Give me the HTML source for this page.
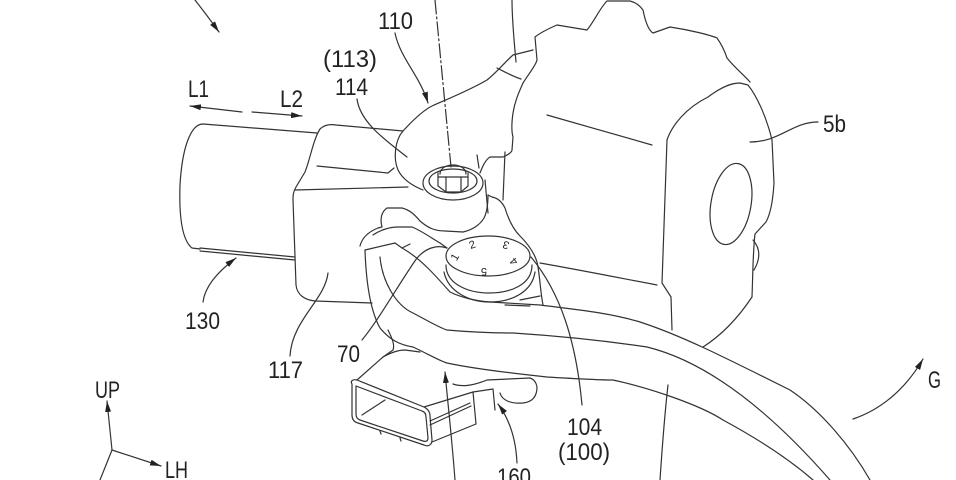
<!DOCTYPE html>
<html>
<head>
<meta charset="utf-8">
<style>
html,body{margin:0;padding:0;background:#fff;}
svg{display:block;}
text{font-family:"Liberation Sans",sans-serif;fill:#222;}
</style>
</head>
<body>
<svg width="956" height="480" viewBox="0 0 956 480" xmlns="http://www.w3.org/2000/svg">
<defs>
<marker id="a" viewBox="0 0 11 6" refX="11" refY="3" markerWidth="11" markerHeight="6" orient="auto" markerUnits="userSpaceOnUse">
<path d="M0,0 L11,3 L0,6 z" fill="#222"/>
</marker>
</defs>
<rect width="956" height="480" fill="#fff"/>
<g fill="none" stroke="#333" stroke-width="1.2" stroke-linecap="round" stroke-linejoin="round">

<!-- leaders & arrows -->
<path d="M195,0 Q206,14 219,32" marker-end="url(#a)"/>
<path d="M242,112 L190,106" marker-end="url(#a)"/>
<path d="M252,112 L302,116" marker-end="url(#a)"/>
<path d="M395,33 C400,58 420,76 428,103" marker-end="url(#a)"/>
<path d="M435,0 L451,167" stroke-dasharray="14,3,2,3"/>
<path d="M512,0 C512,20 514,40 516,62"/>
<path d="M357,99 C360,122 385,140 407,157"/>
<path d="M750,142 C780,142 792,122 818,122"/>
<path d="M203,302 C205,285 220,270 236,258" marker-end="url(#a)"/>
<path d="M290,356 C292,320 325,300 328,273"/>
<path d="M362,340 C380,318 400,282 417,258 C425,249 436,244 447,248"/>
<path d="M582,405 C576,340 560,292 531,257"/>
<path d="M517,463 C516,440 510,420 498,404" marker-end="url(#a)"/>
<path d="M455,480 C452,440 448,405 445,372" marker-end="url(#a)"/>
<path d="M112,450 L107,401" marker-end="url(#a)"/>
<path d="M112,450 L161,466" marker-end="url(#a)"/>
<path d="M112,450 L100,480"/>
<path d="M853,419 C880,410 905,390 923,359" marker-end="url(#a)"/>

<!-- cylinder 130 -->
<path d="M317,133 L203,124 C190,124 182,150 180,185 C179,215 182,240 192,248 L200,249"/>
<path d="M200,248 L295,257"/>
<path d="M200,251 L295,260"/>

<!-- box 117 -->
<path d="M320,129 C324,125 330,124 336,125 L403,131"/>
<path d="M320,129 C313,140 310,160 305,172 L296,187 C293,192 293,196 293,200 L296,285 C297,295 305,300 315,301 L372,303"/>
<path d="M317,166 L388,173 L394,168"/>
<path d="M295,190 L408,187"/>

<!-- tab 114 -->
<path d="M403,131 C395,140 393,158 398,170 C403,180 413,186 423,190"/>
<path d="M403,131 C414,119 424,110 432,106 C450,98 470,90 487,80 C497,72 505,62 513,55 L533,50"/>
<path d="M497,68 C505,72 512,76 521,79"/>
<path d="M477,155 L479,168"/>
<path d="M485,180 L488,213"/>

<!-- bolt -->
<ellipse cx="453" cy="183" rx="30" ry="17"/>
<ellipse cx="453" cy="181" rx="24" ry="12"/>
<path d="M438,173 L438,186 L446,192 L461,192 L468,186 L468,173"/>
<path d="M440,174 C440,162 466,162 466,174"/>
<path d="M438,177 L468,177"/>
<path d="M446,177 L446,192 M461,177 L461,192"/>

<!-- bracket -->
<path d="M360,246 C362,238 368,232 378,228 L382,227 C380,220 381,212 387,208 L402,208 C410,210 415,215 420,221 C428,228 435,231 445,231 L463,232 C472,230 480,225 484,218 C488,210 488,200 488,195"/>
<path d="M488,195 L492,197 C498,198 502,202 505,208 C508,218 512,228 520,236 C528,244 534,252 537,262 C540,275 540,290 543,305"/>
<path d="M373,235 C380,230 390,227 398,227 L412,227 C420,230 430,237 440,243 L447,248"/>
<path d="M395,243 L402,248 L410,244"/>

<!-- knob 104 -->
<path d="M446,265 C446,285 470,293 489,293 C510,293 532,285 532,265"/>
<ellipse cx="488" cy="256" rx="42" ry="20"/>
<path d="M444,272 C448,292 470,302 489,302 C512,302 532,292 535,272"/>
<path d="M520,300 L540,296 M505,305 L530,306"/>

<!-- band & hose lines -->
<path d="M365,250 L395,243"/>
<path d="M402,248 C420,258 435,275 450,292 C460,297 475,301 490,302 L540,305 C580,310 610,313 640,322 C680,335 720,355 790,390 C820,410 850,445 870,480"/>
<path d="M380,257 C382,280 395,305 413,313 C430,322 440,328 447,330 C480,333 500,333 513,333 C560,336 600,340 647,347 C700,360 760,400 830,480"/>
<path d="M365,250 C366,280 370,310 380,328 C390,340 400,345 413,347 C430,355 440,361 447,363 C470,368 500,372 547,377 C580,379 600,380 613,380 C650,388 700,405 723,420 C760,440 790,460 813,480"/>
<path d="M668,385 C664,420 662,450 660,480"/>

<!-- housing 5b -->
<path d="M480,173 C482,168 485,160 490,157 L503,157 C508,155 512,152 512,150 L513,137 C511,130 512,120 513,113 C515,100 520,90 523,83 C530,72 536,65 537,60 L535,37 C540,33 550,28 557,25 L587,30 C595,20 600,8 607,1 L630,1 C637,3 640,6 643,10 C645,20 648,30 653,33 L670,27 C690,30 710,35 717,38 C722,45 725,52 727,58 C735,68 745,76 750,82"/>
<path d="M667,140 C672,125 686,108 708,97 C720,88 730,83 740,83 L748,85 C756,95 766,115 772,140 L774,183 C773,200 771,213 766,222 L755,234 C753,250 753,270 752,297 C740,315 725,333 703,347"/>
<path d="M753,240 C760,248 761,258 754,270"/>
<path d="M667,140 L662,283 L671,297 L672,330"/>
<path d="M547,115 L652,145"/>
<path d="M540,263 C580,270 620,278 657,285"/>
<path d="M505,152 L503,200"/>
<ellipse cx="731" cy="204" rx="20" ry="41" transform="rotate(10 731 204)"/>

<!-- lower bracket under band -->
<path d="M388,330 C392,338 395,345 393,350 L383,357"/>

<!-- connector -->
<path d="M352,384 C350,381 353,379 357,380 L424,407 C428,409 430,412 430,416 L432,440 C432,445 428,447 424,445 L358,423 C354,422 352,419 352,415 Z"/>
<path d="M356,386 L422,411 C425,412 426,414 426,417 L428,438 C428,441 426,442 423,441 L360,420 C357,419 356,417 356,414 Z"/>
<path d="M362,415 L385,400"/>
<path d="M357,380 L383,357 C392,352 400,350 405,350 L420,352"/>
<path d="M424,407 L473,392"/>
<path d="M430,421 L470,403 M430,425 L471,406"/>
<path d="M432,442 L476,424 L473,392"/>
<path d="M453,384 C462,387 472,386 487,380 L530,378"/>
<path d="M473,392 L493,389 L495,410"/>
<path d="M500,393 C502,400 510,404 523,403 C532,402 537,397 537,387 C536,381 533,379 530,378"/>
<path d="M380,431 L381,434 M400,438 L401,441"/>
</g>

<!-- knob digits -->
<g font-size="11">
<text x="451" y="260" transform="rotate(-60 455 256)">1</text>
<text x="469" y="248" transform="rotate(-20 473 244)">2</text>
<text x="501" y="249" transform="rotate(200 505 245)">3</text>
<text x="509" y="265" transform="rotate(230 513 261)">4</text>
<text x="479" y="276" transform="rotate(180 483 272)">5</text>
</g>

<!-- labels -->
<g font-size="24">
<text x="378" y="29" textLength="35" lengthAdjust="spacingAndGlyphs">110</text>
<text x="323" y="67" textLength="54" lengthAdjust="spacingAndGlyphs">(113)</text>
<text x="335" y="95" textLength="33" lengthAdjust="spacingAndGlyphs">114</text>
<text x="188" y="97" textLength="21" lengthAdjust="spacingAndGlyphs">L1</text>
<text x="280" y="107" textLength="23" lengthAdjust="spacingAndGlyphs">L2</text>
<text x="823" y="132" textLength="23" lengthAdjust="spacingAndGlyphs">5b</text>
<text x="185" y="329" textLength="35" lengthAdjust="spacingAndGlyphs">130</text>
<text x="268" y="378" textLength="35" lengthAdjust="spacingAndGlyphs">117</text>
<text x="337" y="362" textLength="23" lengthAdjust="spacingAndGlyphs">70</text>
<text x="567" y="435" textLength="35" lengthAdjust="spacingAndGlyphs">104</text>
<text x="558" y="460" textLength="52" lengthAdjust="spacingAndGlyphs">(100)</text>
<text x="497" y="485" textLength="34" lengthAdjust="spacingAndGlyphs">160</text>
<text x="95" y="398" textLength="25" lengthAdjust="spacingAndGlyphs">UP</text>
<text x="165" y="478" textLength="23" lengthAdjust="spacingAndGlyphs">LH</text>
<text x="928" y="388" textLength="13" lengthAdjust="spacingAndGlyphs">G</text>
</g>
</svg>
</body>
</html>
